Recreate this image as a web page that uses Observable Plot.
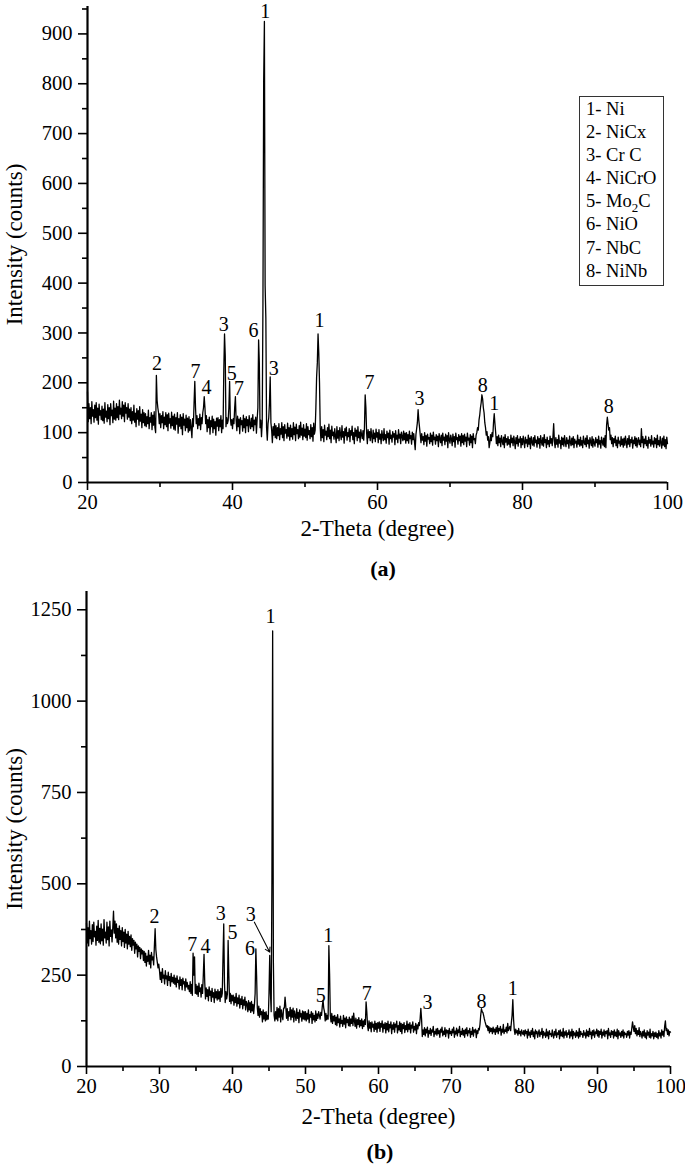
<!DOCTYPE html>
<html><head><meta charset="utf-8">
<script src="https://cdn.jsdelivr.net/npm/d3@7"></script>
<script src="https://cdn.jsdelivr.net/npm/@observablehq/plot@0.6"></script>
<style>
body{margin:0;background:#fff;}
#wrap{position:relative;width:685px;height:1166px;font-family:"Liberation Serif","Times New Roman",serif;color:#000;overflow:hidden;}
.panel{position:absolute;left:0;}
.cap{position:absolute;transform:translateX(-50%);font-weight:bold;font-size:22px;line-height:24px;}
#legend{position:absolute;left:579px;top:96px;width:85px;height:190px;border:1.5px solid #333;box-sizing:border-box;font-size:18.5px;line-height:23.1px;padding:1px 0 0 6px;white-space:nowrap;}
#legend sub{font-size:0.7em;vertical-align:-0.35em;line-height:0;}
</style></head>
<body><div id="wrap"></div>
<script>
// XRD scan: each row holds 20 readings, 2-Theta from (20 + 2*row) in 0.1 degree steps; last row is 100.0
const scanStart = 20, rowSpan = 2, scanStep = 0.1;

const intensityA = [
[182,122,158,128,150,118,162,133,146,121,155,130,160,125,149,117,157,135,144,126],
[153,124,147,119,160,131,143,122,156,128,150,116,158,134,145,120,163,127,149,125],
[158,130,152,126,165,137,149,128,162,133,155,122,160,139,150,127,158,131,147,124],
[150,118,142,125,155,121,139,112,148,127,144,115,152,123,137,110,146,120,140,114],
[138,112,132,118,145,108,130,121,140,106,135,115,142,110,100,215,165,150,140,118],
[138,110,134,120,142,108,131,116,140,112,136,104,139,119,128,109,141,114,133,107],
[137,105,130,117,140,99,128,113,136,108,131,96,138,115,127,104,135,110,129,101],
[132,104,126,110,90,128,112,160,203,150,118,134,108,128,115,137,106,130,118,140],
[150,172,150,118,134,102,126,110,131,97,124,112,133,100,127,108,122,95,129,113],
[130,104,126,112,134,100,125,108,225,298,255,112,130,118,124,150,203,130,115,126],
[108,128,118,150,172,125,104,133,112,127,98,130,116,124,103,135,110,128,100,132],
[114,126,102,134,118,108,129,112,136,104,125,116,131,99,127,150,286,240,110,125],
[92,120,360,805,925,395,330,110,85,118,130,160,212,120,105,80,112,95,118,90],
[114,88,110,94,118,86,108,97,120,90,112,84,116,99,106,89,119,93,110,85],
[115,92,108,87,120,96,111,84,117,98,106,88,114,91,121,95,109,86,116,93],
[107,90,118,85,112,96,104,88,116,92,110,83,119,97,105,150,211,240,298,260],
[201,110,84,112,90,106,82,115,95,103,86,110,92,117,88,105,80,113,94,101],
[87,108,93,80,112,89,104,84,110,96,86,114,91,102,79,108,94,111,85,100],
[92,108,82,104,95,113,86,100,78,109,93,105,84,112,90,101,81,106,96,88],
[104,85,110,176,150,100,78,106,90,102,84,108,93,80,105,88,99,82,107,91],
[100,80,106,87,97,78,104,92,84,108,86,96,79,103,90,99,77,105,88,95],
[81,102,91,98,76,104,87,95,80,106,89,97,78,101,92,84,103,86,99,79],
[100,84,96,79,103,88,94,77,101,86,98,82,66,96,108,120,146,125,110,95],
[80,98,85,92,76,100,83,94,73,97,87,90,78,99,82,95,75,101,86,91],
[77,96,84,93,72,98,88,80,95,74,99,85,91,76,97,83,94,70,100,86],
[79,95,88,74,97,82,92,71,99,86,90,77,96,84,93,73,98,80,94,76],
[97,83,91,72,99,85,89,75,96,80,93,70,98,86,88,78,95,100,110,105],
[125,135,150,160,176,168,150,140,120,110,95,102,85,92,70,80,96,84,100,92],
[120,138,118,100,78,92,74,95,80,89,72,94,83,76,91,70,96,81,88,75],
[92,77,86,71,95,80,89,74,93,82,68,90,78,94,73,87,81,92,70,88],
[76,93,82,70,91,79,86,72,95,77,89,68,92,81,75,90,73,94,80,85],
[71,92,78,88,69,94,82,75,90,73,96,80,86,70,91,77,84,72,93,79],
[88,74,92,118,82,70,90,77,86,71,95,79,84,68,91,76,89,73,94,80],
[72,90,78,85,69,93,81,74,89,76,92,70,87,79,83,71,95,77,86,73],
[91,75,84,70,93,80,76,89,72,94,78,85,69,90,82,74,92,71,87,79],
[73,90,80,86,71,93,77,84,69,91,82,75,89,72,94,70,115,131,118,105],
[110,86,95,78,90,72,88,80,93,74,85,70,91,79,83,73,92,76,87,71],
[89,75,93,81,70,88,77,94,72,86,80,91,69,85,78,92,74,89,71,84],
[90,76,85,72,108,80,92,70,87,78,93,74,84,69,91,79,86,73,94,77],
[83,71,90,78,88,70,95,76,84,73,92,80,69,89,75,93,72,86,68,91],
[78]];

const intensityB = [
[392,338,380,330,398,350,372,335,388,342,395,355,370,332,384,345,400,340,378,336],
[390,344,376,332,402,352,368,338,395,347,382,330,398,356,374,341,380,425,365,398],
[352,390,340,378,335,385,348,372,330,380,342,368,326,375,338,362,322,370,335,356],
[328,360,318,350,332,345,310,340,322,335,300,330,315,326,295,322,308,318,290,315],
[285,310,275,302,288,318,280,305,270,312,292,300,278,330,377,320,300,285,270,280],
[262,238,258,230,268,242,250,226,262,240,248,222,258,236,246,220,255,232,244,228],
[250,225,242,218,248,230,236,212,245,222,238,210,242,226,232,208,240,218,230,212],
[222,205,232,200,225,195,310,250,300,200,225,198,220,192,228,205,215,190,224,200],
[250,307,230,185,215,192,210,180,218,195,206,178,214,190,202,175,212,188,205,182],
[210,185,205,178,214,190,200,300,390,230,175,205,185,198,345,250,178,200,172,195],
[180,195,168,190,175,200,165,188,172,195,160,185,170,192,158,182,168,190,155,178],
[172,150,180,155,175,148,178,152,170,145,168,200,322,250,160,140,165,135,158,142],
[150,122,155,130,148,125,150,128,140,130,200,304,200,150,517,1192,286,140,125,150],
[130,162,125,158,135,165,122,155,140,128,160,160,190,165,132,158,126,150,138,162],
[128,155,135,160,122,152,140,126,158,132,148,120,155,136,145,124,152,130,150,128],
[150,125,145,130,155,120,142,135,150,118,146,128,140,122,152,126,144,132,150,140],
[130,148,140,165,181,160,150,125,145,128,140,130,331,254,140,122,145,118,138,125],
[140,115,135,112,142,120,130,108,138,118,126,110,140,116,132,106,136,120,128,112],
[135,110,130,118,138,112,146,125,110,132,105,128,115,134,108,126,112,130,104,125],
[110,128,115,177,150,112,98,125,105,120,95,122,108,116,96,124,102,118,94,120],
[105,122,96,118,108,125,94,116,104,120,92,118,100,124,95,115,106,122,90,114],
[102,120,94,116,108,124,92,112,100,122,96,118,90,115,104,120,93,112,101,124],
[95,116,102,120,92,113,105,122,94,110,100,118,90,114,103,120,112,130,159,130],
[82,100,88,106,84,102,92,108,80,98,90,104,85,100,94,110,82,96,89,103],
[86,104,90,98,80,102,94,108,84,97,88,106,82,100,92,99,78,104,90,96],
[85,102,92,108,80,97,89,105,84,100,93,110,82,96,88,104,86,99,80,102],
[90,106,84,98,92,104,80,96,88,107,83,100,94,102,79,98,90,104,100,115],
[140,158,150,148,140,130,122,115,108,112,98,110,92,106,96,104,90,108,95,102],
[88,106,95,112,90,104,98,110,86,102,94,115,90,100,96,108,92,118,98,105],
[110,98,120,140,183,130,100,88,102,92,98,86,104,90,96,84,100,92,88,98],
[84,100,90,96,78,102,86,94,80,98,88,104,82,95,76,100,90,96,80,92],
[100,82,94,88,104,78,96,86,92,80,102,84,95,76,98,88,90,82,100,86],
[78,96,86,102,80,92,88,98,76,100,84,94,82,104,78,95,86,98,80,92],
[88,100,78,95,84,102,76,96,86,92,80,98,84,94,78,104,82,96,88,90],
[80,98,86,92,78,100,84,96,82,104,88,94,76,98,86,100,80,95,90,102],
[84,98,80,96,88,102,78,94,86,100,82,96,90,98,76,104,86,92,80,98],
[88,96,78,100,84,94,82,102,76,98,86,92,80,96,84,100,78,94,88,90],
[80,96,86,98,78,94,88,105,122,108,96,112,90,104,84,98,88,106,82,96],
[90,78,96,84,100,80,92,76,98,86,94,80,102,78,90,84,96,76,92,82],
[94,80,90,76,98,84,92,78,100,86,96,82,110,125,98,104,88,100,84,96],
[94]];

// peak labels
const peakA_x = [44.5, 29.6, 34.9, 36.4, 38.8, 39.9, 40.9, 42.9, 45.7, 52.0, 58.9, 65.8, 74.5, 76.1, 91.9];
const peakA_y = [944, 238, 223, 191, 317, 219, 188, 304, 228, 324, 201, 168, 195, 158, 152];
const peakA_t = ["1","2","7","4","3","5","7","6","3","1","7","3","8","1","8"];

const peakB_x = [45.2, 29.3, 34.5, 36.3, 38.4, 40.0, 42.4, 42.5, 52.1, 53.1, 58.4, 66.7, 74.1, 78.4];
const peakB_y = [1231, 410, 333, 327, 418, 366, 322, 416, 195, 358, 200, 174, 177, 213];
const peakB_t = ["1","2","7","4","3","5","6","3","5","1","7","3","8","1"];

// arrow in panel (b): from label "3" to its peak
const arrowB = [{x1: 43.0, y1: 395, x2: 45.1, y2: 313}];

// legend
const phaseNumbers = ["1","2","3","4","5","6","7","8"];
const phaseNames = ["Ni","NiCx","Cr C","NiCrO","Mo_2C","NiO","NbC","NiNb"];

// axes
const xMajorA = [20,40,60,80,100], xMinorA = [30,50,70,90];
const yMajorA = [0,100,200,300,400,500,600,700,800,900], yMinorA = [50,150,250,350,450,550,650,750,850,950];
const xMajorB = [20,30,40,50,60,70,80,90,100], xMinorB = [25,35,45,55,65,75,85,95];
const yMajorB = [0,250,500,750,1000,1250], yMinorB = [125,375,625,875,1125];

const xTitle = "2-Theta (degree)", yTitle = "Intensity (counts)";

function scan(rows) {
  const out = [];
  rows.forEach((row, r) => row.forEach((v, j) => {
    out.push({t: +(scanStart + r * rowSpan + j * scanStep).toFixed(1), c: v});
  }));
  return out;
}
function zipLabels(xs, ys, ts) { return xs.map((x, i) => ({x, y: ys[i], t: ts[i]})); }

function panel(o) {
  const font = "Liberation Serif, Times New Roman, serif";
  return Plot.plot({
    width: 685, height: o.height,
    marginTop: o.mt, marginBottom: o.mb, marginLeft: o.ml, marginRight: o.mr,
    style: {fontFamily: font, fontSize: "20px", color: "#000", background: "transparent", overflow: "visible"},
    x: {domain: [20, 100], label: null},
    y: {domain: [0, o.yMax], label: null},
    marks: [
      Plot.axisX({ticks: o.xMinor, tickSize: 5, tickFormat: () => "", strokeWidth: 1.6, label: null}),
      Plot.axisX({ticks: o.xMajor, tickSize: 8, tickPadding: 4, tickFormat: d => String(d), strokeWidth: 1.6, fontSize: 20.5, fontFamily: font, label: null}),
      Plot.axisY({ticks: o.yMinor, tickSize: 5, tickFormat: () => "", strokeWidth: 1.6, label: null}),
      Plot.axisY({ticks: o.yMajor, tickSize: 9, tickPadding: 6, tickFormat: d => String(d), strokeWidth: 1.6, fontSize: 20.5, fontFamily: font, label: null}),
      Plot.ruleX([20], {strokeWidth: 2.2}),
      Plot.ruleY([0], {strokeWidth: 2.2}),
      Plot.line(scan(o.values), {x: "t", y: "c", stroke: "#000", strokeWidth: 1.3}),
      Plot.text(o.labels, {x: "x", y: "y", text: "t", fontSize: 20, fontFamily: font}),
      ...(o.arrow ? [Plot.arrow(o.arrow, {x1: "x1", y1: "y1", x2: "x2", y2: "y2", strokeWidth: 1.1, headLength: 7, bend: false})] : []),
      Plot.text([yTitle], {frameAnchor: "left", textAnchor: "middle", rotate: -90, dx: -(o.ml - 14), fontSize: 23, fontFamily: font}),
      Plot.text([xTitle], {frameAnchor: "bottom", textAnchor: "middle", dy: o.xdy, fontSize: 23, fontFamily: font})
    ]
  });
}

const wrap = document.getElementById("wrap");

const a = panel({values: intensityA, height: 550, mt: 6, mb: 68, ml: 87, mr: 18, yMax: 955,
  xMajor: xMajorA, xMinor: xMinorA, yMajor: yMajorA, yMinor: yMinorA,
  labels: zipLabels(peakA_x, peakA_y, peakA_t), xdy: 53});
a.classList.add("panel"); a.style.top = "0px";
wrap.appendChild(a);

const b = panel({values: intensityB, height: 560, mt: 11, mb: 74, ml: 86, mr: 15, yMax: 1300,
  xMajor: xMajorB, xMinor: xMinorB, yMajor: yMajorB, yMinor: yMinorB,
  labels: zipLabels(peakB_x, peakB_y, peakB_t), arrow: arrowB, xdy: 57});
b.classList.add("panel"); b.style.top = "580px";
wrap.appendChild(b);

const capA = document.createElement("div");
capA.className = "cap"; capA.style.left = "383px"; capA.style.top = "557px"; capA.textContent = "(a)";
wrap.appendChild(capA);
const capB = document.createElement("div");
capB.className = "cap"; capB.style.left = "380px"; capB.style.top = "1140px"; capB.textContent = "(b)";
wrap.appendChild(capB);

const legend = document.createElement("div");
legend.id = "legend";
phaseNames.forEach((name, i) => {
  const line = document.createElement("div");
  const parts = name.split("_");
  line.append(phaseNumbers[i] + "- " + parts[0]);
  if (parts.length > 1) {
    const sub = document.createElement("sub");
    sub.textContent = parts[1][0];
    line.append(sub, parts[1].slice(1));
  }
  legend.appendChild(line);
});
wrap.appendChild(legend);
</script>
</body></html>
